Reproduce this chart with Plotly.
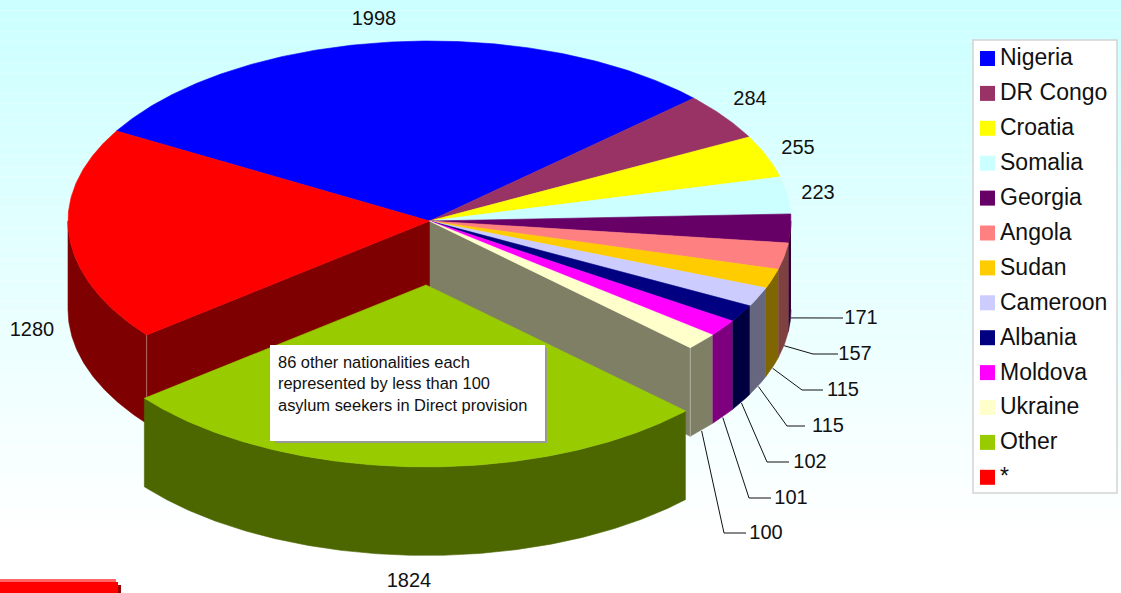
import numpy as np
import plotly.graph_objects as go

names = ["Nigeria","DR Congo","Croatia","Somalia","Georgia","Angola","Sudan","Cameroon","Albania","Moldova","Ukraine","Other","*"]
values = [1998,284,255,223,171,157,115,115,102,101,100,1824,1280]
colors = ["#0000FF","#993366","#FFFF00","#CCFFFF","#660066","#FF8080","#FFCC00","#CCCCFF","#000080","#FF00FF","#FFFFCC","#99CC00","#FF0000"]
label_x = [374,750,798,818,861,855,843,828,810,791,766,409,32]
label_y = [18,98,147,192,317,353,389,425,461,497,532,580,329]
elbow_x = [None,None,None,None,820,813,802,787,767,749,724,None,None]
leader_end_x = [None,None,None,None,843,838,823,805,789,771,746,None,None]

CX, CY, RX, RY, RY_FRONT, DEPTH = 429.5, 221.0, 361.5, 180.0, 183.0, 88.5
START = -60.0
EXPLODE = 64.0
EXPLODE_DX = -0.5
OTHER_RX = 360.0
OTHER_RY_FRONT = 182.0
EXPLODED = "Other"
FONT = "Liberation Sans"
W, H = 1121, 593
GRAD_H = 540

total = sum(values)
spans = [v / total * 360 for v in values]
starts = START + np.concatenate([[0], np.cumsum(spans)[:-1]])


def darker(c):
    r, g, b = (int(c[i:i + 2], 16) // 2 for i in (1, 3, 5))
    return f"rgb({r},{g},{b})"


def rim(a, b, cx, cy, ry_front=RY_FRONT, rx=RX):
    t = np.radians(np.linspace(a, b, max(int(abs(b - a) * 2), 2)))
    c = np.cos(t)
    return cx + rx * np.sin(t), cy - np.where(c >= 0, RY, ry_front) * c


fig = go.Figure()


def poly(xs, ys, color, name=""):
    fig.add_trace(go.Scatter(x=list(xs), y=list(ys), mode="lines", fill="toself", fillcolor=color,
                             line=dict(color=color, width=0.6), hoverinfo="skip", showlegend=False, name=name))


def top_face(a, b, cx, cy, color, name, ry_front=RY_FRONT, rx=RX):
    x, y = rim(a, b, cx, cy, ry_front, rx)
    poly(np.r_[cx, x, cx], np.r_[cy, y, cy], color, name)


def outer_wall(a, b, cx, cy, color, name, ry_front=RY_FRONT, rx=RX):
    # only the front half of the cylinder (90..270 deg clockwise from top) can be seen
    for shift in (0, -360):
        lo, hi = max(a + shift, 90), min(b + shift, 270)
        if hi > lo:
            x, y = rim(lo, hi, cx, cy, ry_front, rx)
            poly(np.r_[x, x[::-1]], np.r_[y, y[::-1] + DEPTH], color, name)


def radial_wall(a, color, name):
    x, y = rim(a, a, CX, CY)
    poly([CX, x[0], x[0], CX, CX], [CY, y[0], y[0] + DEPTH, CY + DEPTH, CY], color, name)
    fig.add_trace(go.Scatter(x=[x[0], x[0]], y=[y[0], y[0] + DEPTH], mode="lines",
                             line=dict(color="rgba(255,255,255,0.35)", width=1), hoverinfo="skip", showlegend=False))


slices = list(zip(names, starts, spans, colors))
idx = names.index(EXPLODED)
ea, es = starts[idx], spans[idx]
mid = np.radians(ea + es / 2)
ox, oy = CX + EXPLODE_DX + EXPLODE * np.sin(mid), CY - EXPLODE * np.cos(mid)

# main pie: walls first, then tops
for n, a, s, c in slices:
    if n != EXPLODED:
        outer_wall(a, a + s, CX, CY, darker(c), n)
radial_wall(ea, darker(colors[idx - 1]), names[idx - 1])
radial_wall(ea + es, darker(colors[idx + 1]), names[idx + 1])
for n, a, s, c in slices:
    if n != EXPLODED:
        top_face(a, a + s, CX, CY, c, n)

# exploded slice on top
outer_wall(ea, ea + es, ox, oy, darker(colors[idx]), EXPLODED, OTHER_RY_FRONT, OTHER_RX)
top_face(ea, ea + es, ox, oy, colors[idx], EXPLODED, OTHER_RY_FRONT, OTHER_RX)

# leader lines
for i, (a, s) in enumerate(zip(starts, spans)):
    if elbow_x[i] is None:
        continue
    x0, y0 = rim(a + s / 2, a + s / 2, CX, CY)
    fig.add_trace(go.Scatter(x=[x0[0], elbow_x[i], leader_end_x[i]],
                             y=[y0[0] + DEPTH + 1, label_y[i] + 1, label_y[i] + 1], mode="lines",
                             line=dict(color="#111", width=1), hoverinfo="skip", showlegend=False))

# value labels
fig.add_trace(go.Scatter(x=label_x, y=[v + 2 for v in label_y], mode="text", text=[str(v) for v in values],
                         textposition="middle center", textfont=dict(family=FONT, size=20, color="#111"),
                         hoverinfo="skip", showlegend=False))

# legend
LEG_TOP, LEG_STEP = 58.5, 34.9
leg_y = [LEG_TOP + i * LEG_STEP for i in range(len(names))]
fig.add_trace(go.Scatter(x=[987.5] * len(names), y=leg_y, mode="markers",
                         marker=dict(symbol="square", size=15, color=colors, line=dict(width=0)),
                         hoverinfo="skip", showlegend=False))
fig.add_trace(go.Scatter(x=[1000] * len(names), y=[v + 1.2 for v in leg_y], mode="text", text=names,
                         textposition="middle right", textfont=dict(family=FONT, size=23, color="#111"),
                         hoverinfo="skip", showlegend=False))

# background gradient and furniture
shapes = []
LEVELS = 52
for i in range(LEVELS):
    v = 204 + i
    shapes.append(dict(type="rect", layer="below", x0=0, x1=W, y0=i * GRAD_H / LEVELS, y1=(i + 1) * GRAD_H / LEVELS,
                       fillcolor=f"rgb({v},255,255)", line=dict(width=0)))
shapes += [
    dict(type="rect", layer="below", x0=973, x1=1117, y0=40, y1=493, fillcolor="#FFFFFF", line=dict(width=0)),
    dict(type="rect", layer="above", x0=973, x1=1117, y0=40, y1=493, fillcolor="rgba(0,0,0,0)",
         line=dict(color="#D4D4D4", width=1.5)),
    dict(type="rect", layer="above", x0=275, x1=547, y0=348, y1=443, fillcolor="#999999", line=dict(width=0)),
    dict(type="rect", layer="above", x0=270, x1=545, y0=345, y1=441, fillcolor="#FFFFFF", line=dict(width=0)),
    dict(type="rect", layer="below", x0=3, x1=121, y0=585, y1=593, fillcolor="#990000", line=dict(width=0)),
    dict(type="rect", layer="below", x0=0, x1=116, y0=579, y1=583, fillcolor="#FF6666", line=dict(width=0)),
    dict(type="rect", layer="below", x0=0, x1=118, y0=582, y1=593, fillcolor="#FF0000", line=dict(width=0)),
]

fig.update_layout(
    width=W, height=H, margin=dict(l=0, r=0, t=0, b=0), autosize=False,
    paper_bgcolor="white", plot_bgcolor="rgba(0,0,0,0)", showlegend=False, shapes=shapes,
    xaxis=dict(range=[0, W], visible=False, fixedrange=True),
    yaxis=dict(range=[H, 0], visible=False, fixedrange=True),
    annotations=[dict(x=276, y=350.5, xref="x", yref="y", xanchor="left", yanchor="top", align="left", showarrow=False,
                      text="86 other nationalities each<br>represented by less than 100<br>asylum seekers in Direct provision",
                      font=dict(family=FONT, size=16.45, color="#111"))],
)
fig.write_html("out.html", config={"displayModeBar": False},
               post_script="document.body.style.margin='0';document.body.style.overflow='hidden';")
